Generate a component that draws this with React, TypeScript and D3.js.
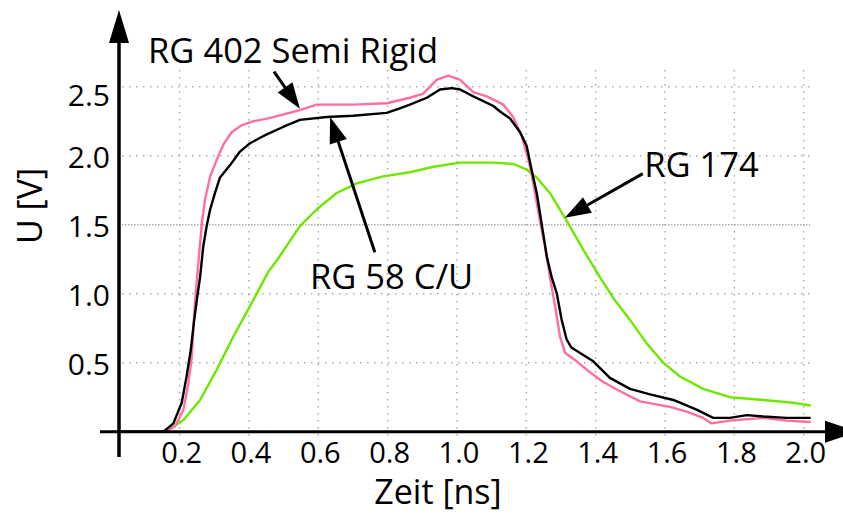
import React from "react";
import * as d3 from "d3";

const xTicks = [0.2, 0.4, 0.6, 0.8, 1.0, 1.2, 1.4, 1.6, 1.8, 2.0];
const yTicks = [0.5, 1.0, 1.5, 2.0, 2.5];

const tBlack = [0.03,0.15,0.158,0.182,0.206,0.22,0.232,0.241,0.251,0.259,0.268,0.278,0.288,0.302,0.316,0.345,0.374,0.403,0.432,0.456,0.5,0.547,0.624,0.7,0.797,0.831,0.864,0.913,0.951,0.985,1.009,1.047,1.105,1.124,1.153,1.182,1.201,1.215,1.23,1.244,1.259,1.273,1.288,1.302,1.316,1.33,1.355,1.393,1.441,1.499,1.557,1.624,1.691,1.739,1.787,1.836,1.884,1.95,2.02];
const vBlack = [0,0,0.01,0.06,0.21,0.40,0.59,0.79,0.98,1.12,1.34,1.49,1.61,1.73,1.84,1.93,2.03,2.09,2.13,2.16,2.21,2.26,2.28,2.29,2.31,2.34,2.37,2.42,2.48,2.49,2.48,2.43,2.36,2.32,2.27,2.17,2.07,1.90,1.73,1.51,1.27,1.12,1.00,0.81,0.67,0.61,0.57,0.51,0.39,0.31,0.27,0.23,0.16,0.10,0.10,0.12,0.11,0.10,0.10];

const tPink = [0.03,0.16,0.187,0.211,0.225,0.235,0.244,0.254,0.264,0.273,0.288,0.307,0.326,0.35,0.379,0.413,0.456,0.5,0.547,0.595,0.7,0.797,0.864,0.903,0.941,0.975,1.009,1.047,1.086,1.134,1.162,1.187,1.206,1.22,1.239,1.254,1.268,1.283,1.297,1.312,1.345,1.384,1.422,1.465,1.528,1.614,1.662,1.71,1.734,1.787,1.884,1.95,2.02];
const vPink = [0,0,0.04,0.16,0.35,0.54,0.93,1.22,1.51,1.68,1.85,1.97,2.08,2.17,2.22,2.25,2.27,2.30,2.33,2.37,2.37,2.38,2.42,2.45,2.55,2.58,2.55,2.46,2.43,2.37,2.28,2.14,1.97,1.80,1.53,1.34,1.12,0.91,0.69,0.57,0.51,0.43,0.36,0.30,0.22,0.18,0.145,0.10,0.06,0.08,0.10,0.08,0.07];

const tGreen = [0.03,0.16,0.211,0.259,0.307,0.355,0.403,0.456,0.48,0.547,0.595,0.653,0.711,0.787,0.864,0.932,1.009,1.105,1.162,1.201,1.23,1.268,1.316,1.364,1.412,1.456,1.499,1.547,1.595,1.643,1.71,1.787,1.884,1.97,2.02];
const vGreen = [0,0,0.085,0.23,0.45,0.69,0.91,1.16,1.24,1.49,1.61,1.73,1.80,1.85,1.88,1.92,1.95,1.95,1.94,1.90,1.84,1.73,1.53,1.32,1.12,0.95,0.81,0.64,0.50,0.40,0.31,0.25,0.23,0.21,0.19];

const seriesNames = ["RG 174", "RG 402 Semi Rigid", "RG 58 C/U"];
const seriesColors = ["#6ee800", "#ff6f9c", "#000000"];

// annotations in data units: label anchor, arrow tail, arrow tip
const labelPos = [[1.54, 1.845], [0.109, 2.67], [0.576, 1.033]];
const arrowTail = [[1.536, 1.87], [0.472, 2.61], [0.763, 1.30]];
const arrowTip = [[1.311, 1.55], [0.547, 2.34], [0.634, 2.28]];

const W = 843, H = 515;
const x = d3.scaleLinear().domain([0, 2]).range([110.3, 803.7]);
const y = d3.scaleLinear().domain([0, 2.5]).range([431.7, 86.7]);
const FONT = "'Open Sans', sans-serif";

function Arrow({ from, to }: { from: number[]; to: number[] }) {
  const x1 = x(from[0]), y1 = y(from[1]), x2 = x(to[0]), y2 = y(to[1]);
  const dx = x2 - x1, dy = y2 - y1;
  const len = Math.hypot(dx, dy);
  const ux = dx / len, uy = dy / len;
  const hl = 26, hw = 9;
  const bx = x2 - ux * hl, by = y2 - uy * hl;
  const pts = [[x2, y2], [bx - uy * hw, by + ux * hw], [bx + uy * hw, by - ux * hw]];
  return (
    <g>
      <line x1={x1} y1={y1} x2={bx + ux * 2} y2={by + uy * 2} stroke="#000" strokeWidth={3} />
      <polygon points={pts.map((p) => p.join(",")).join(" ")} fill="#000" />
    </g>
  );
}

export default function App() {
  const line = d3.line<[number, number]>().x((d) => x(d[0])).y((d) => y(d[1]));
  const series = [
    tGreen.map((t, i) => [t, vGreen[i]] as [number, number]),
    tPink.map((t, i) => [t, vPink[i]] as [number, number]),
    tBlack.map((t, i) => [t, vBlack[i]] as [number, number]),
  ];
  const axisY = 431.7;
  const axisX = 119;
  return (
    <svg width={W} height={H} style={{ position: "absolute", left: 0, top: 0, background: "#fff" }} fontFamily={FONT}>
      <rect width={W} height={H} fill="#fff" />
      {/* vertical grid */}
      {xTicks.map((t) => (
        <line key={"vg" + t} x1={x(t)} x2={x(t)} y1={70} y2={437} stroke="#aaa" strokeWidth={1.5} strokeDasharray="1.5,5.5" />
      ))}
      {/* horizontal grid */}
      {yTicks.map((v) => (
        <line key={"hg" + v} x1={axisX + 3} x2={810} y1={y(v)} y2={y(v)} stroke="#aaa" strokeWidth={1.5}
          strokeDasharray={v === 1.5 ? "1.5,1.5" : "1.5,5.5"} />
      ))}
      {/* curves */}
      {series.map((s, i) => (
        <path key={seriesNames[i]} d={line(s) || ""} fill="none" stroke={seriesColors[i]} strokeWidth={2.4} strokeLinejoin="round" />
      ))}
      {/* axes */}
      <line x1={100} x2={830} y1={axisY} y2={axisY} stroke="#000" strokeWidth={3} />
      <polygon points={`858,${axisY} 825,${axisY - 11} 825,${axisY + 11}`} fill="#000" />
      <line x1={axisX} x2={axisX} y1={40} y2={457} stroke="#000" strokeWidth={3.5} />
      <polygon points={`${axisX},10 ${axisX - 10},43 ${axisX + 10},43`} fill="#000" />
      {/* tick labels */}
      {xTicks.map((t) => (
        <text key={"xt" + t} x={x(t) + 2} y={463} fontSize={29} textAnchor="middle" fill="#000">{t.toFixed(1)}</text>
      ))}
      {yTicks.map((v) => (
        <text key={"yt" + v} x={110} y={y(v) + (v === 2.5 ? 8 : 1)} fontSize={30} textAnchor="end" dominantBaseline="central" fill="#000">{v.toFixed(1)}</text>
      ))}
      {/* axis titles */}
      <text x={438} y={504} fontSize={34} textAnchor="middle" fill="#000">Zeit [ns]</text>
      <text transform="translate(42,206) rotate(-90)" fontSize={34} textAnchor="middle" fill="#000">U [V]</text>
      {/* annotations */}
      {seriesNames.map((n, i) => (
        <g key={"ann" + n}>
          <Arrow from={arrowTail[i]} to={arrowTip[i]} />
          <text x={x(labelPos[i][0])} y={y(labelPos[i][1])} fontSize={34.5} fill="#000">{n}</text>
        </g>
      ))}
    </svg>
  );
}
